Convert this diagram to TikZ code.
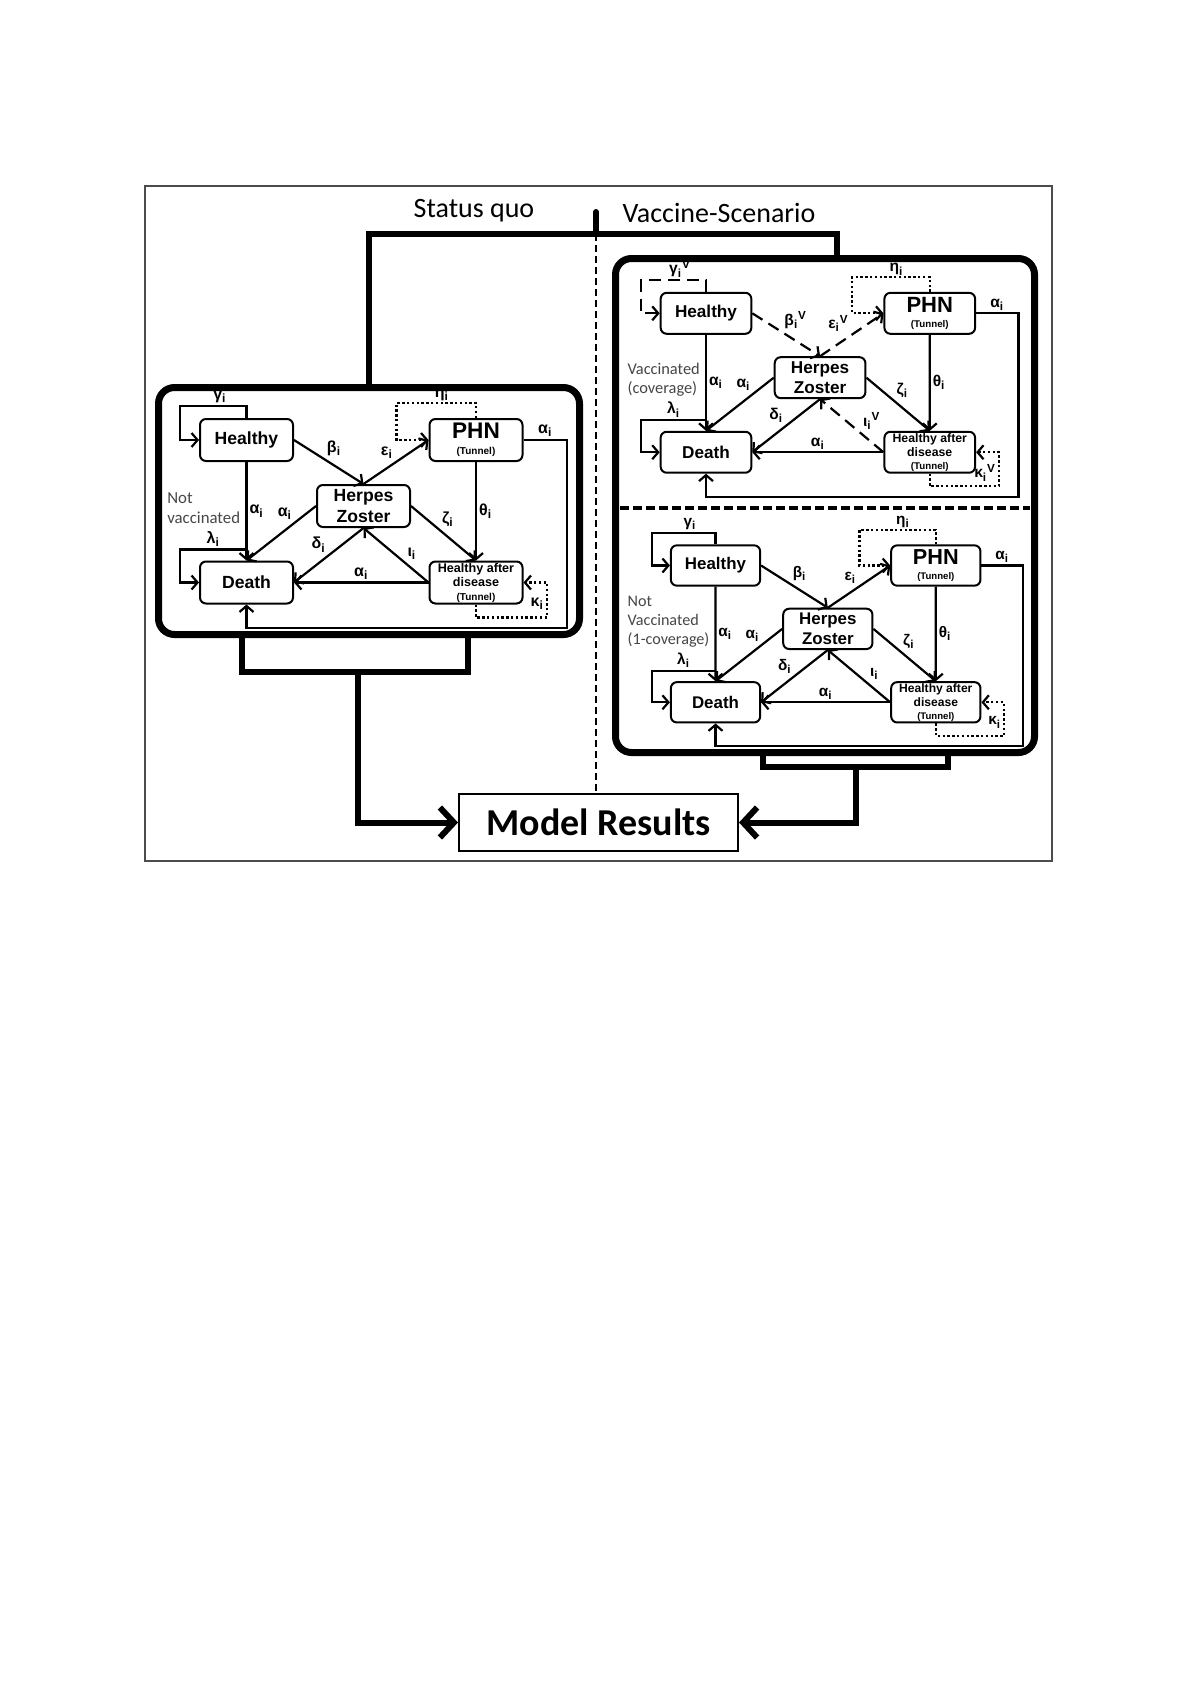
\documentclass[tikz,border=0pt]{standalone}
\usepackage{fontspec}
\setmainfont{Liberation Sans}
\newfontfamily\calibri{Carlito}
\usetikzlibrary{arrows.meta,calc}
\definecolor{notegray}{RGB}{70,70,70}

\newcommand{\rt}[2]{#1\textsubscript{i}#2}
\newcommand{\tunnelfont}{\fontsize{5}{6}\selectfont}

\tikzset{
  state/.style={draw,rounded corners=3pt,line width=1pt,minimum width=46.5pt,minimum height=21pt,
    inner sep=0pt,align=center,font=\bfseries\fontsize{8.8}{10.3}\selectfont},
  link/.style={line width=1.1pt,-{Straight Barb[length=3pt,width=7pt]}},
  vacc/.style={},
  loopdots/.style={dash pattern=on 1.2pt off 1.2pt},
  rate/.style={font=\bfseries\fontsize{8}{9}\selectfont,inner sep=1pt},
  group/.style={font=\calibri\fontsize{8.4}{10}\selectfont,text=notegray,align=left,inner sep=0pt},
  bigbox/.style={draw,line width=3.5pt,rounded corners=8pt},
  tree/.style={line width=3pt},
  bigarrow/.style={tree,-{Straight Barb[length=7pt,width=15pt]}},
  title/.style={font=\calibri\fontsize{14}{16}\selectfont},
  result/.style={draw,line width=1pt,minimum width=139.5pt,minimum height=28.5pt,
    font=\calibri\bfseries\fontsize{19}{22}\selectfont},
  divider/.style={line width=1pt,dash pattern=on 3.5pt off 2pt},
  cutline/.style={line width=2pt,dash pattern=on 4.5pt off 2pt},
  frame/.style={draw=black!70,line width=0.6pt}
}

% one state-transition model: name prefix, scope options, superscript, group text
\newcommand{\zostermodel}[4]{%
\begin{scope}[#2]
  \node[state] (#1H) at (0,0) {Healthy};
  \node[state] (#1Z) at (117,66) {Herpes\\Zoster};
  \node[state] (#1P) at (229.5,0) {{\fontsize{11.3}{12}\selectfont PHN}\\[-2.5pt]{\tunnelfont (Tunnel)}};
  \node[state] (#1D) at (0,142.5) {Death};
  \node[state,font=\bfseries\fontsize{6.3}{7.3}\selectfont] (#1A) at (229.5,142.5) {Healthy after\\disease\\[-0.6pt]{\tunnelfont (Tunnel)}};
  \node[group,anchor=south east] (#1G) at (-6,86) {#4\vphantom{(}};
  % self loops
  \draw[link,vacc] (#1H.north) -- ++(0,-12) -- node[rate,above,pos=0.4]{\rt{γ}{#3}} ++(-66.5,0) |- (#1H.west);
  \draw[link] ([yshift=5.5pt]#1D.north) -- node[rate,above]{\rt{λ}{}} ++(-66.5,0) |- (#1D.west);
  \draw[link,loopdots] (#1P.north) -- ++(0,-15) -- node[rate,above,pos=0.43,yshift=-0.5pt]{\rt{η}{}} ++(-79.5,0) |- (#1P.west);
  \draw[link,loopdots] (#1A.south) -- ++(0,13) -| node[rate,left,pos=0.7]{\rt{κ}{#3}} ([xshift=11.75pt]#1A.east) -- (#1A.east);
  \draw[link] (#1P.east) -- node[rate,above]{\rt{α}{}} ++(43.5,0) -- ++(0,188) -| (#1D.south);
  % transitions
  \draw[link] (#1H) -- node[rate,right]{\rt{α}{}} (#1D);
  \draw[link,vacc] (#1H.east) -- node[rate,above right,pos=0.43]{\rt{β}{#3}} (#1Z.north);
  \draw[link,vacc] (#1Z.north) -- node[rate,above left]{\rt{ε}{#3}} (#1P.west);
  \draw[link] (#1P) -- node[rate,right]{\rt{θ}{}} (#1A);
  \draw[link] (#1Z.east) -- node[rate,above right,pos=0.43]{\rt{ζ}{}} (#1A.north);
  \draw[link] (#1Z.west) -- node[rate,above left,pos=0.3]{\rt{α}{}} (#1D.north);
  \draw[link] (#1Z.south) -- node[rate,above left]{\rt{δ}{}} (#1D.east);
  \draw[link,vacc] (#1A.west) -- node[rate,above right,pos=0.37]{\rt{ι}{#3}} (#1Z.south);
  \draw[link] (#1A.west) -- node[rate,above]{\rt{α}{}} (#1D.east);
\end{scope}}

\begin{document}
\begin{tikzpicture}[x=0.5pt,y=-0.5pt]
  \fill[white] (0,0) rectangle (1200,1698);
  \useasboundingbox (0,0) rectangle (1200,1698);
  \draw[frame] (145,186) rectangle (1052,861);

  \node[title] (sqlabel) at (474,211) {Status quo};
  \node[title] (vslabel) at (719,213) {Vaccine-Scenario};

  \node[bigbox,minimum width=210.5pt,minimum height=123.5pt] (sq) at (369,511) {};
  \node[bigbox,minimum width=209.5pt,minimum height=247pt] (vs) at (825,505.5) {};
  \node[result] (res) at (598.5,822.5) {Model Results};

  \zostermodel{s}{shift={(246.5,440)}}{}{Not\\vaccinated}
  \zostermodel{v}{shift={(706,313.3)},scale=0.975,transform shape,vacc/.style={dash pattern=on 6pt off 3.5pt}}{\textsuperscript{V}}{Vaccinated\\(coverage)}
  \zostermodel{n}{shift={(715.5,565.5)},scale=0.96,transform shape}{}{Not\\Vaccinated\\(1-coverage)}

  % top split
  \coordinate (tip) at (596,212);
  \coordinate (split) at (596,234);
  \draw[tree,line cap=round] (tip) -- (split);
  \draw[tree] (sq.north) |- (split) -| ([xshift=6pt]vs.north);
  \draw[divider] (split) -- (split |- res.north);

  % vaccinated / not vaccinated cut
  \coordinate (cut) at (825,508);
  \draw[cutline,shorten <=4pt,shorten >=4pt] (cut -| vs.west) -- (cut -| vs.east);

  % to the results
  \coordinate (sqjoin) at (358,672);
  \draw[tree] ([xshift=-63.5pt]sq.south) |- (sqjoin) -| ([xshift=49.5pt]sq.south);
  \draw[bigarrow] (sqjoin) |- (res.west);
  \coordinate (vsjoin) at (856,767);
  \draw[tree] ([xshift=-31pt]vs.south) |- (vsjoin) -| ([xshift=61.5pt]vs.south);
  \draw[bigarrow] (vsjoin) |- (res.east);
\end{tikzpicture}
\end{document}
